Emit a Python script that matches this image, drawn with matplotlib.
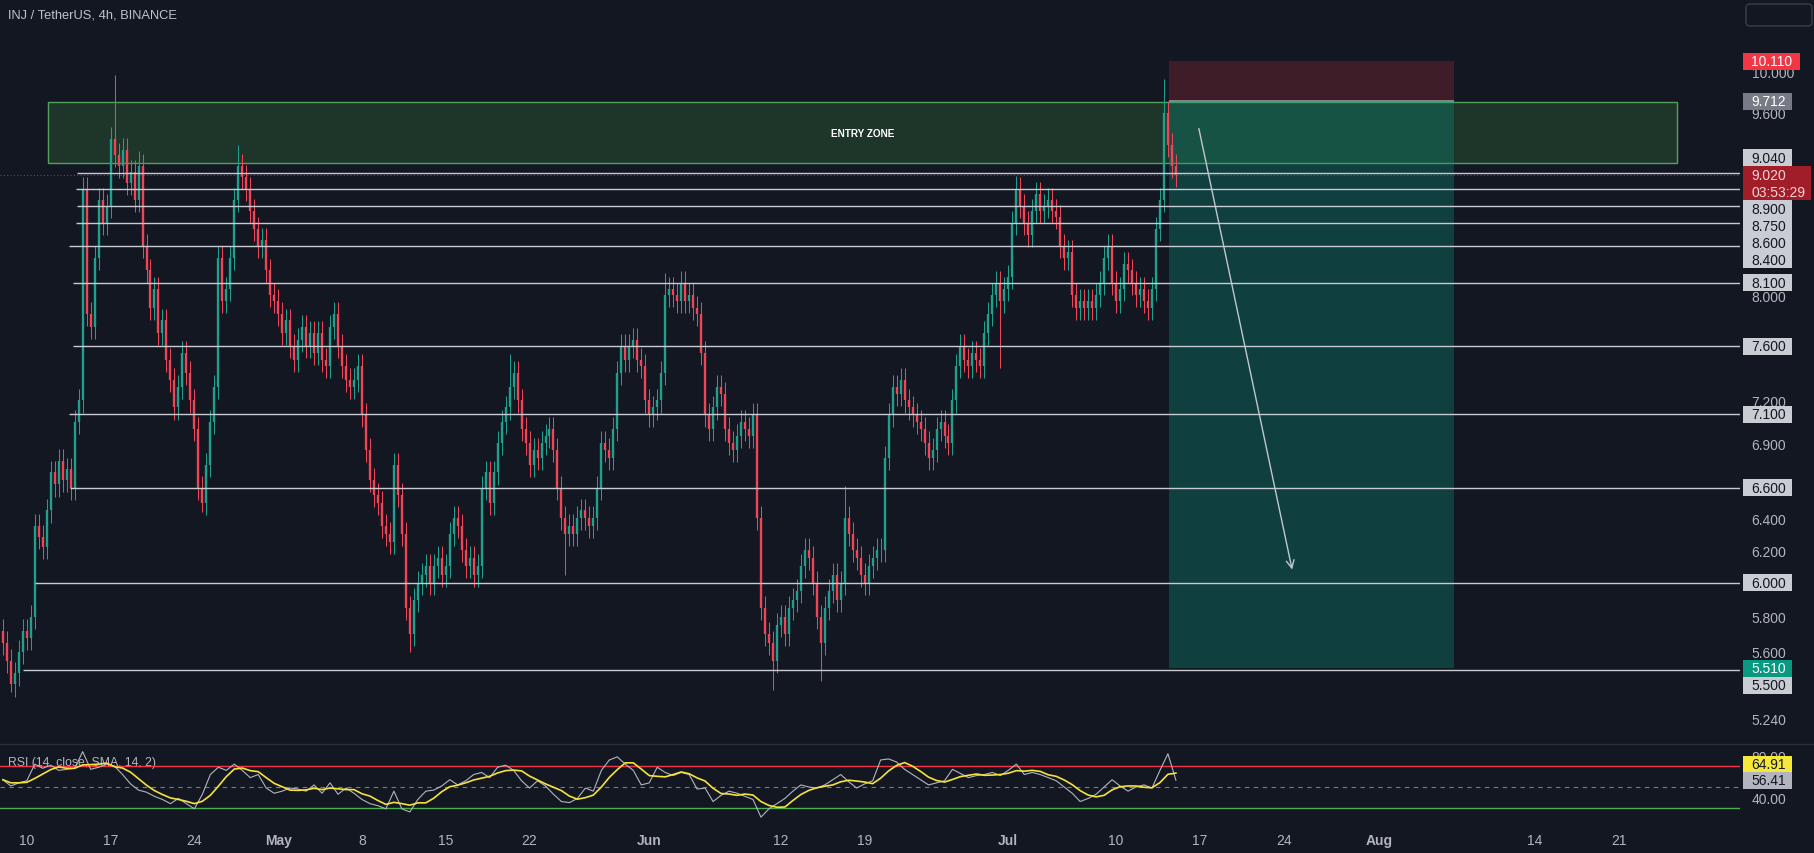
import numpy as np
import pandas as pd
import matplotlib
matplotlib.use('Agg')
import matplotlib.pyplot as plt
import matplotlib.dates as mdates
from matplotlib.patches import Rectangle, FancyBboxPatch
from matplotlib.transforms import IdentityTransform
from matplotlib.ticker import FixedLocator, FixedFormatter, NullLocator

plt.rcParams['font.family'] = ['Liberation Sans', 'DejaVu Sans']

# ---------------- data ----------------
title = 'INJ / TetherUS, 4h, BINANCE'
bar_start = '2023-04-08 00:00'
bar_freq = '8h'
first_open = 5.72
closes = [
    5.65, 5.55, 5.42, 5.48, 5.60, 5.72, 5.68, 5.80, 6.35, 6.28,
    6.22, 6.45, 6.70, 6.62, 6.78, 6.65, 6.72, 6.60, 7.05, 7.20,
    8.90, 7.85, 7.75, 8.30, 8.80, 8.60, 8.75, 9.35, 9.20, 9.10,
    9.25, 8.95, 9.05, 8.80, 9.10, 8.40, 8.20, 7.90, 8.05, 7.70,
    7.80, 7.50, 7.35, 7.15, 7.30, 7.55, 7.40, 7.20, 7.00, 6.60,
    6.50, 6.75, 7.05, 7.30, 8.30, 7.95, 8.05, 8.30, 8.80, 9.10,
    9.00, 8.90, 8.70, 8.55, 8.40, 8.45, 8.20, 8.00, 7.95, 7.85,
    7.70, 7.80, 7.60, 7.50, 7.65, 7.75, 7.60, 7.70, 7.55, 7.70,
    7.50, 7.45, 7.75, 7.85, 7.60, 7.45, 7.35, 7.30, 7.35, 7.45,
    7.10, 6.85, 6.65, 6.55, 6.50, 6.35, 6.30, 6.25, 6.75, 6.55,
    6.30, 5.85, 5.70, 5.90, 6.00, 6.05, 6.10, 6.00, 6.10, 6.15,
    6.05, 6.10, 6.30, 6.40, 6.35, 6.20, 6.10, 6.15, 6.05, 6.10,
    6.60, 6.70, 6.50, 6.70, 6.90, 7.05, 7.15, 7.30, 7.40, 7.20,
    7.00, 6.90, 6.75, 6.85, 6.80, 6.90, 6.95, 7.00, 6.85, 6.60,
    6.40, 6.30, 6.35, 6.30, 6.40, 6.45, 6.40, 6.35, 6.40, 6.60,
    6.90, 6.85, 6.80, 7.00, 7.40, 7.60, 7.50, 7.60, 7.65, 7.50,
    7.45, 7.20, 7.10, 7.15, 7.20, 7.40, 8.00, 8.05, 8.00, 7.95,
    8.10, 7.95, 8.00, 7.90, 7.85, 7.55, 7.10, 7.00, 7.15, 7.30,
    7.25, 7.00, 6.90, 6.85, 6.95, 7.05, 7.00, 6.95, 7.10, 6.40,
    5.85, 5.70, 5.65, 5.55, 5.75, 5.80, 5.70, 5.85, 5.90, 5.95,
    6.10, 6.20, 6.15, 6.00, 5.80, 5.65, 5.85, 5.95, 6.05, 5.90,
    6.00, 6.40, 6.30, 6.20, 6.15, 6.05, 6.00, 6.10, 6.15, 6.20,
    6.20, 6.80, 7.10, 7.30, 7.25, 7.35, 7.20, 7.15, 7.10, 7.05,
    7.00, 6.90, 6.80, 6.85, 7.00, 7.05, 6.95, 6.90, 7.20, 7.45,
    7.60, 7.50, 7.45, 7.55, 7.50, 7.45, 7.70, 7.85, 8.00, 8.10,
    7.95, 8.05, 8.15, 8.60, 8.90, 8.75, 8.60, 8.50, 8.70, 8.85,
    8.70, 8.75, 8.80, 8.70, 8.65, 8.40, 8.30, 8.35, 8.00, 7.90,
    7.95, 7.90, 7.95, 7.90, 8.00, 8.10, 8.30, 8.40, 8.10, 7.95,
    8.05, 8.25, 8.20, 8.10, 8.00, 8.05, 7.95, 7.90, 8.05, 8.55,
    8.80, 9.60, 9.30, 9.10, 9.02,
]
wick_pct = 0.012
extreme_highs = {28: 9.97, 34: 9.24, 59: 9.30, 127: 7.54, 166: 8.18,
                 211: 6.61, 254: 9.01, 291: 9.93}
extreme_lows = {2: 5.38, 50: 6.44, 102: 5.60, 141: 6.05, 193: 5.39,
                205: 5.44, 250: 7.44}

rsi_start = '2023-04-08 00:00'
rsi_freq = '16h'
rsi_values = [
    57, 51, 54, 56, 72, 68, 71, 66, 67, 68,
    84, 67, 69, 72, 70, 62, 53, 47, 45, 41,
    38, 34, 39, 34, 29, 43, 62, 69, 66, 72,
    66, 59, 62, 49, 44, 46, 49, 48, 46, 52,
    44, 54, 43, 49, 44, 38, 34, 32, 29, 46,
    29, 26, 38, 46, 47, 51, 57, 52, 56, 62,
    64, 59, 69, 71, 66, 56, 49, 56, 51, 43,
    36, 35, 39, 49, 46, 66, 76, 79, 72, 66,
    52, 54, 69, 64, 61, 64, 62, 48, 49, 36,
    42, 46, 44, 41, 38, 21, 29, 34, 39, 46,
    52, 50, 49, 52, 57, 62, 55, 49, 53, 56,
    76, 77, 74, 67, 62, 57, 52, 54, 56, 67,
    63, 59, 61, 62, 64, 61, 66, 72, 62, 64,
    62, 59, 56, 50, 44, 36, 39, 43, 50, 57,
    51, 46, 50, 52, 49, 66, 82, 56.41,
]
rsi_sma_len = 4
rsi_sma_last = 64.91
rsi_upper, rsi_mid, rsi_lower = 70, 50, 30

levels = [9.04, 8.90, 8.75, 8.60, 8.40, 8.10, 7.60, 7.10, 6.60, 6.00, 5.50]
level_starts = ['2023-04-14 04:30', '2023-04-14 02:40', '2023-04-14 04:30',
                '2023-04-14 02:40', '2023-04-13 12:40', '2023-04-13 20:40',
                '2023-04-13 20:40', '2023-04-13 12:40', '2023-04-13 14:40',
                '2023-04-10 16:30', '2023-04-09 16:20']

zone_start, zone_end = '2023-04-11 17:30', '2023-08-25 21:00'
zone_low, zone_high = 9.13, 9.70
zone_text = 'ENTRY ZONE'

pos_start, pos_end = '2023-07-14 10:00', '2023-08-07 05:30'
pos_entry, pos_stop, pos_target = 9.712, 10.11, 5.51

arrow_from = ('2023-07-16 22:00', 9.45)
arrow_to = ('2023-07-24 17:00', 6.08)

countdown = '03:53:29'

x_min, x_max = '2023-04-07 18:15', '2023-08-31 03:00'
price_min, price_max = 5.112, 10.757
rsi_min, rsi_max = 17.3, 90.4

price_ticks = [5.24, 5.6, 5.8, 6.2, 6.4, 6.9, 7.2, 8.0, 9.6, 10.0]
rsi_ticks = [40, 80]
xtick_dates = ['2023-04-10', '2023-04-17', '2023-04-24', '2023-05-01', '2023-05-08',
               '2023-05-15', '2023-05-22', '2023-06-01', '2023-06-12', '2023-06-19',
               '2023-07-01', '2023-07-10', '2023-07-17', '2023-07-24', '2023-08-01',
               '2023-08-14', '2023-08-21']
xtick_labels = ['10', '17', '24', 'May', '8', '15', '22', 'Jun', '12', '19',
                'Jul', '10', '17', '24', 'Aug', '14', '21']
month_labels = {'May', 'Jun', 'Jul', 'Aug'}

# ---------------- style ----------------
W, H, DPI = 1815, 854, 100
BG = '#131722'
UP = '#1fa08c'
DOWN = '#f04556'
TXT = '#b2b5be'
LEVEL = '#c8cbd2'
LBL_BG = '#c9ccd3'
LBL_FG = '#131722'
FS = 10

fig = plt.figure(figsize=(W / DPI, H / DPI), dpi=DPI, facecolor=BG)
ax = fig.add_axes([0, 1 - 744 / H, 1740 / W, 744 / H])
rx = fig.add_axes([0, 1 - 822 / H, 1740 / W, (822 - 746) / H], sharex=ax)
for a in (ax, rx):
    a.set_facecolor(BG)
    for s in a.spines.values():
        s.set_visible(False)

d = lambda s: mdates.date2num(pd.Timestamp(s))

# ---- candles ----
t = pd.date_range(bar_start, periods=len(closes), freq=bar_freq)
x = mdates.date2num(t)
c = np.array(closes, dtype=float)
o = np.concatenate([[first_open], c[:-1]])
hi = np.maximum(o, c) * (1 + wick_pct)
lo = np.minimum(o, c) * (1 - wick_pct)
for i, v in extreme_highs.items():
    hi[i] = v
for i, v in extreme_lows.items():
    lo[i] = v
cols = np.where(c >= o, UP, DOWN)
ax.vlines(x, lo, hi, colors=cols, lw=0.75, zorder=3)
ax.vlines(x, np.minimum(o, c), np.maximum(o, c), colors=cols, lw=1.7, zorder=3)

ax.set_yscale('log')
ax.set_ylim(price_min, price_max)
ax.set_xlim(d(x_min), d(x_max))

# ---- level lines ----
for lv, st in zip(levels, level_starts):
    ax.hlines(lv, d(st), d(x_max), colors=LEVEL, lw=1.0, zorder=4)

# last price dotted line
ax.axhline(c[-1], color=DOWN, lw=0.8, ls=(0, (1, 2)), alpha=0.6, zorder=2)

# ---- entry zone ----
z0, z1 = d(zone_start), d(zone_end)
ax.add_patch(Rectangle((z0, zone_low), z1 - z0, zone_high - zone_low,
                       facecolor=(0.30, 0.69, 0.31, 0.20), edgecolor=(0.36, 0.72, 0.40, 0.85),
                       lw=1.0, zorder=2))
ax.text((z0 + z1) / 2, np.sqrt(zone_low * zone_high), zone_text, color='white',
        fontsize=7.2, fontweight='bold', ha='center', va='center', zorder=6)

# ---- position (short) box ----
p0, p1 = d(pos_start), d(pos_end)
ax.add_patch(Rectangle((p0, pos_entry), p1 - p0, pos_stop - pos_entry,
                       facecolor=(0.95, 0.21, 0.27, 0.20), edgecolor='none', zorder=2.5))
ax.add_patch(Rectangle((p0, pos_target), p1 - p0, pos_entry - pos_target,
                       facecolor=(0.03, 0.60, 0.51, 0.31), edgecolor='none', zorder=2.5))
ax.hlines(pos_entry, p0, p1, colors='#8f939c', lw=1.2, zorder=3)

# ---- arrow ----
ax.annotate('', xy=(d(arrow_to[0]), arrow_to[1]), xytext=(d(arrow_from[0]), arrow_from[1]),
            arrowprops=dict(arrowstyle='->', color='#c3c6ce', lw=1.0, mutation_scale=14,
                            shrinkA=0, shrinkB=0), zorder=7)

# ---- price axis ticks ----
ax.yaxis.tick_right()
ax.yaxis.set_major_locator(FixedLocator(price_ticks))
ax.yaxis.set_major_formatter(FixedFormatter([f'{v:.3f}' for v in price_ticks]))
ax.yaxis.set_minor_locator(NullLocator())
ax.tick_params(axis='y', length=0, pad=8.4, labelsize=FS, labelcolor=TXT)
ax.tick_params(axis='x', length=0, labelbottom=False)

# ---- RSI panel ----
tr = pd.date_range(rsi_start, periods=len(rsi_values), freq=rsi_freq)
xr = mdates.date2num(tr)
rsi = pd.Series(rsi_values, dtype=float)
sma = rsi.rolling(rsi_sma_len, min_periods=1).mean()
rx.axhline(rsi_upper, color='#f23645', lw=1.0, zorder=2)
rx.axhline(rsi_lower, color='#4caf50', lw=1.0, zorder=2)
rx.axhline(rsi_mid, color='#787b86', lw=0.8, ls=(0, (4, 4)), zorder=2)
rx.plot(xr, rsi.values, color='#b2b5be', lw=0.8, zorder=3)
rx.plot(xr, sma.values, color='#f5e23b', lw=1.2, zorder=4)
rx.set_ylim(rsi_min, rsi_max)
rx.yaxis.tick_right()
rx.yaxis.set_major_locator(FixedLocator(rsi_ticks))
rx.yaxis.set_major_formatter(FixedFormatter([f'{v:.2f}' for v in rsi_ticks]))
rx.tick_params(axis='y', length=0, pad=8.4, labelsize=FS, labelcolor=TXT)
rx.set_xticks([d(s) for s in xtick_dates])
rx.set_xticklabels(xtick_labels)
rx.tick_params(axis='x', length=0, pad=8.8, labelsize=FS, labelcolor=TXT)
for lab in rx.get_xticklabels():
    if lab.get_text() in month_labels:
        lab.set_fontweight('bold')
rx.text(0.0045, 0.77, 'RSI (14, close, SMA, 14, 2)', transform=rx.transAxes,
        color=TXT, fontsize=8.8, ha='left', va='center', zorder=1)

# ---- overlays in pixel space ----
IDT = IdentityTransform()


def ytop(a, v):
    return H - a.transData.transform((a.get_xlim()[0], v))[1]


def stack(items, anchor):
    order = sorted(range(len(items)), key=lambda i: items[i]['y'])
    pos = order.index(anchor)
    for i in order:
        items[i]['c'] = items[i]['y']
    bottom = items[anchor]['c'] + items[anchor]['h'] / 2
    for i in order[pos + 1:]:
        top = max(items[i]['y'] - items[i]['h'] / 2, bottom)
        items[i]['c'] = top + items[i]['h'] / 2
        bottom = top + items[i]['h']
    top_lim = items[anchor]['c'] - items[anchor]['h'] / 2
    for i in reversed(order[:pos]):
        bot = min(items[i]['y'] + items[i]['h'] / 2, top_lim)
        items[i]['c'] = bot - items[i]['h'] / 2
        top_lim = bot - items[i]['h']


def draw_label(it):
    h, w = it['h'], it['w']
    yc = it['c']
    fig.add_artist(Rectangle((1743, H - (yc + h / 2)), w, h, transform=IDT,
                             facecolor=it['bg'], edgecolor='none', zorder=5))
    lines = it['text']
    n = len(lines)
    for k, s in enumerate(lines):
        yy = yc - h / 2 + (k + 0.5) * h / n
        fig.text(1751, H - yy, s, transform=IDT, color=it['fg'], fontsize=FS,
                 ha='left', va='center', zorder=6)


LH = 17
items = []
items.append(dict(y=ytop(ax, pos_stop), h=LH, w=57, bg='#f23645', fg='white',
                  text=[f'{pos_stop:.3f}']))
items.append(dict(y=ytop(ax, pos_entry), h=LH, w=49, bg='#787b86', fg='white',
                  text=[f'{pos_entry:.3f}']))
for lv in levels:
    items.append(dict(y=ytop(ax, lv), h=LH, w=49, bg=LBL_BG, fg=LBL_FG, text=[f'{lv:.3f}']))
items.append(dict(y=ytop(ax, pos_target), h=LH, w=49, bg='#089981', fg='white',
                  text=[f'{pos_target:.3f}']))
items.append(dict(y=ytop(ax, c[-1]) + LH / 2 - 0.5, h=2 * LH, w=68, bg='#a11e29', fg='#f6d4d7',
                  text=[f'{c[-1]:.3f}', countdown]))
stack(items, len(items) - 1)
for it in items:
    draw_label(it)

ritems = [dict(y=ytop(rx, rsi_sma_last), h=16.5, w=49, bg='#f5e83a', fg=LBL_FG,
               text=[f'{rsi_sma_last:.2f}']),
          dict(y=ytop(rx, rsi.values[-1]), h=16.5, w=49, bg='#b2b5be', fg=LBL_FG,
               text=[f'{rsi.values[-1]:.2f}'])]
stack(ritems, 1)
for it in ritems:
    draw_label(it)

# separator between panes
fig.add_artist(plt.Line2D([0, W], [H - 745, H - 745], transform=IDT, color='#2a2e39', lw=1.0))

# title
fig.text(8, H - 16, title, transform=IDT, color='#c0c3cb', fontsize=9.3,
         ha='left', va='center')

# top-right button
fig.add_artist(FancyBboxPatch((1746, H - 27), 66, 22, boxstyle='round,pad=0,rounding_size=4',
                              transform=IDT, facecolor='none', edgecolor='#3a3e4a', lw=1.0))

fig.savefig('out.png', dpi=DPI, facecolor=BG)
